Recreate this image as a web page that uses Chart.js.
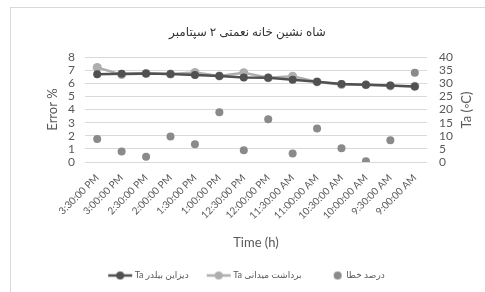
<!DOCTYPE html>
<html>
<head>
<meta charset="utf-8">
<script src="https://cdn.jsdelivr.net/npm/chart.js@4"></script>
<style>
	html, body { margin: 0; padding: 0; background: #fff; }
	#wrap { position: relative; width: 485px; height: 292px; }
	#frame { position: absolute; left: 10px; top: 7px; width: 490px; height: 300px; border: 1px solid #d9d9d9; box-sizing: border-box; }
	#chart { position: absolute; left: 0; top: 0; }
</style>
</head>
<body>
<div id="wrap">
	<div id="frame"></div>
	<canvas id="chart" width="485" height="292"></canvas>
</div>
<script>
const timeLabels = ["3:30:00 PM", "3:00:00 PM", "2:30:00 PM", "2:00:00 PM", "1:30:00 PM", "1:00:00 PM", "12:30:00 PM",
	"12:00:00 PM", "11:30:00 AM", "11:00:00 AM", "10:30:00 AM", "10:00:00 AM", "9:30:00 AM", "9:00:00 AM"];
const taDesign = [33.4, 33.6, 33.7, 33.5, 33.1, 32.8, 32.2, 32.1, 31.3, 30.6, 29.7, 29.4, 29.1, 28.8];
const taField = [36.0, 33.3, 33.7, 33.5, 34.1, 32.8, 34.0, 32.1, 32.7, 30.5, 29.5, 29.4, 29.0, 28.9];
const errorPct = [1.75, 0.8, 0.4, 1.95, 1.35, 3.8, 0.9, 3.25, 0.65, 2.55, 1.05, 0.05, 1.65, 6.8];

const FONT = "Lato, 'DejaVu Sans', sans-serif";
const TXT = "#595959";
const DARK = "#515151";
const LIGHT = "#aeaeae";
const DOT = "#8a8a8a";

// legend markers: line with dot, or dot only
function marker(color, withLine) {
	const c = document.createElement("canvas");
	c.width = 28; c.height = 10;
	const g = c.getContext("2d");
	g.fillStyle = color; g.strokeStyle = color;
	if (withLine) {
		g.lineWidth = 2.5;
		g.beginPath(); g.moveTo(2, 5); g.lineTo(26, 5); g.stroke();
		g.beginPath(); g.arc(14, 5, 4, 0, Math.PI * 2); g.fill();
	} else {
		g.beginPath(); g.arc(20, 5, 4, 0, Math.PI * 2); g.fill();
	}
	return c;
}

const rightTitle = {
	id: "rightTitle",
	afterDraw(chart) {
		const ctx = chart.ctx;
		ctx.save();
		ctx.translate(467, 110);
		ctx.rotate(-Math.PI / 2);
		ctx.font = "13px " + FONT;
		ctx.fillStyle = TXT;
		ctx.textAlign = "center";
		ctx.textBaseline = "middle";
		ctx.fillText("Ta (\u25E6C)", 0, 0);
		ctx.restore();
	}
};

const legendHeight = {
	id: "legendHeight",
	beforeInit(chart) {
		const lg = chart.legend;
		if (!lg) return;
		const fit = lg.fit;
		lg.fit = function () { fit.call(this); this.height = 41; };
	}
};

new Chart(document.getElementById("chart"), {
	type: "line",
	data: {
		labels: timeLabels,
		datasets: [
			{ label: "Ta دیزاین بیلدر", data: taDesign, yAxisID: "yT", borderColor: DARK, backgroundColor: DARK,
				borderWidth: 2.5, pointRadius: 4, pointBorderWidth: 0, legendMarker: marker(DARK, true) },
			{ label: "Ta برداشت میدانی", data: taField, yAxisID: "yT", borderColor: LIGHT, backgroundColor: LIGHT,
				borderWidth: 2.5, pointRadius: 4.5, pointBorderWidth: 0, legendMarker: marker(LIGHT, true) },
			{ label: "درصد خطا", data: errorPct, yAxisID: "yE", showLine: false, borderColor: DOT, backgroundColor: DOT,
				pointRadius: 4, pointBorderWidth: 0, legendMarker: marker(DOT, false) },
		]
	},
	options: {
		responsive: false,
		animation: false,
		layout: { padding: { left: 10, right: 0, top: 0, bottom: 0 } },
		scales: {
			x: {
				offset: true,
				grid: { display: false },
				border: { display: false },
				ticks: { autoSkip: false, minRotation: 45, maxRotation: 45, padding: 2, color: TXT, font: { family: FONT, size: 10 } },
				title: { display: true, text: "Time (h)", color: TXT, font: { family: FONT, size: 13 }, padding: { top: 1, bottom: 0 } },
				afterFit(s) { s.height = 89; }
			},
			yE: {
				position: "left",
				min: 0, max: 8,
				ticks: { stepSize: 1, autoSkip: false, padding: 10, color: TXT, font: { family: FONT, size: 12 } },
				grid: { color: "#d9d9d9", drawTicks: false },
				border: { display: false },
				title: { display: true, text: "Error %", color: TXT, font: { family: FONT, size: 13 }, padding: { top: 35, bottom: 0 } },
				afterFit(s) { s.width = 75; }
			},
			yT: {
				position: "right",
				min: 0, max: 40,
				ticks: { stepSize: 5, autoSkip: false, padding: 12, color: TXT, font: { family: FONT, size: 12 } },
				grid: { display: false, drawTicks: false },
				border: { display: false },
				afterFit(s) { s.width = 58; }
			}
		},
		plugins: {
			title: {
				display: true,
				text: "شاه نشین خانه نعمتی ۲ سپتامبر",
				color: "#333333",
				font: { family: FONT, size: 12, weight: "normal" },
				padding: { top: 25, bottom: 17.6 }
			},
			legend: {
				position: "bottom",
				labels: {
					usePointStyle: true,
					pointStyleWidth: 20,
					padding: 20,
					color: TXT,
					font: { family: FONT, size: 9 },
					generateLabels(chart) {
						return chart.data.datasets.map((ds, i) => ({
							text: ds.label, pointStyle: ds.legendMarker, fillStyle: ds.backgroundColor,
							strokeStyle: ds.borderColor, lineWidth: 0, fontColor: TXT, datasetIndex: i, hidden: false
						}));
					}
				}
			},
			tooltip: { enabled: false }
		}
	},
	plugins: [rightTitle, legendHeight]
});
</script>
</body>
</html>
